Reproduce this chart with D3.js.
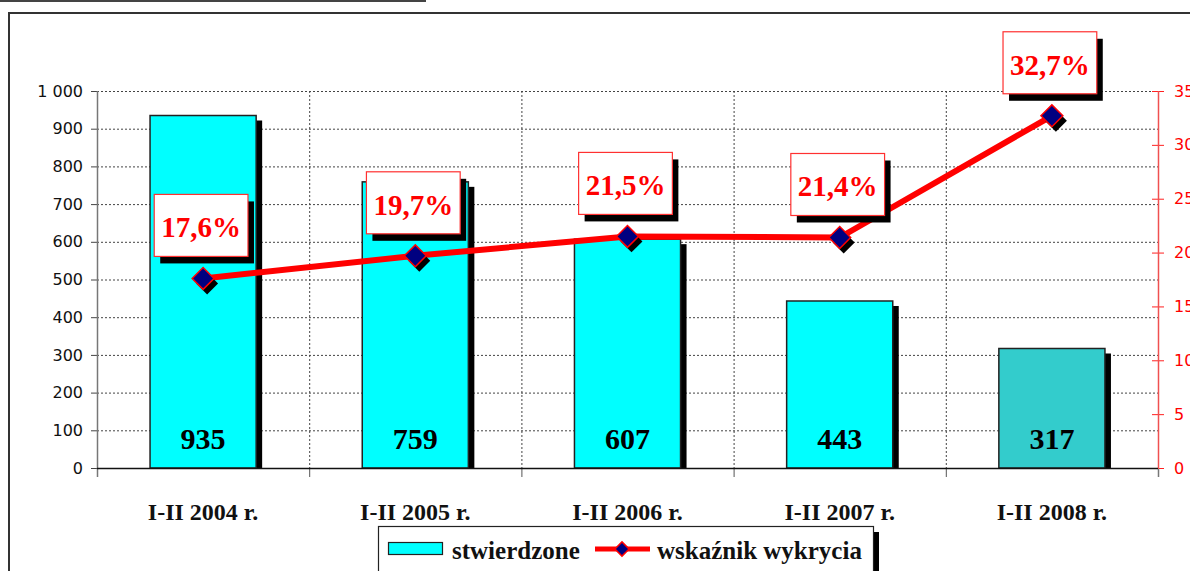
<!DOCTYPE html>
<html>
<head>
<meta charset="utf-8">
<script src="https://cdn.jsdelivr.net/npm/d3@7"></script>
<style>
  body { margin: 0; background: #fff; }
  svg { display: block; }
</style>
</head>
<body>
<div id="chart"></div>
<script>
// data
const categories = ['I-II 2004 r.', 'I-II 2005 r.', 'I-II 2006 r.', 'I-II 2007 r.', 'I-II 2008 r.'];
const stwierdzone = [935, 759, 607, 443, 317];
const wskaznik = [17.6, 19.7, 21.5, 21.4, 32.7];
const left_ticks = [0, 100, 200, 300, 400, 500, 600, 700, 800, 900, 1000];
const right_ticks = [0, 5, 10, 15, 20, 25, 30, 35];
const legend_labels = ['stwierdzone', 'wskaźnik wykrycia'];

const width = 1190, height = 571;
const serif = '"Book Antiqua", "Palatino Linotype", "Liberation Serif", serif';
const sans = '"DejaVu Sans", Verdana, sans-serif';

let svg = d3.select('#chart').append('svg')
    .attr('width', width)
    .attr('height', height);

// header underline and outer frame
svg.append('line')
    .attr('x1', 0).attr('x2', 426)
    .attr('y1', 1).attr('y2', 1)
    .style('stroke', '#444')
    .style('stroke-width', 2);

svg.append('rect')
    .attr('x', 9).attr('y', 13)
    .attr('width', 1300).attr('height', 700)
    .style('fill', 'none')
    .style('stroke', '#333')
    .style('stroke-width', 2);

const x = d3.scaleBand()
    .domain(categories)
    .range([97, 1158])
    .paddingInner(0.5)
    .paddingOuter(0.25);

const y_left = d3.scaleLinear().domain([0, 1000]).range([468, 91]);
const y_right = d3.scaleLinear().domain([0, 35]).range([468, 91]);

const half_gap = (x.step() - x.bandwidth()) / 2;
const cx = c => x(c) + x.bandwidth() / 2;

// horizontal gridlines
svg.append('g').selectAll('line')
    .data(left_ticks.filter(t => t > 0))
    .join('line')
    .attr('x1', 97).attr('x2', 1158)
    .attr('y1', d => y_left(d) + 0.5).attr('y2', d => y_left(d) + 0.5)
    .style('stroke', '#444')
    .style('stroke-width', 1)
    .style('stroke-dasharray', '2,2');

// vertical gridlines at category boundaries
svg.append('g').selectAll('line')
    .data(categories.slice(1))
    .join('line')
    .attr('x1', d => x(d) - half_gap + 0.5).attr('x2', d => x(d) - half_gap + 0.5)
    .attr('y1', 91).attr('y2', 468)
    .style('stroke', '#444')
    .style('stroke-width', 1)
    .style('stroke-dasharray', '2,2');

svg.append('g').selectAll('line')
    .data(categories.slice(1))
    .join('line')
    .attr('x1', d => x(d) - half_gap + 0.5).attr('x2', d => x(d) - half_gap + 0.5)
    .attr('y1', 468).attr('y2', 477)
    .style('stroke', '#555')
    .style('stroke-width', 1);

// bar shadows, then bars
svg.append('g').selectAll('rect')
    .data(stwierdzone)
    .join('rect')
    .attr('x', (d, i) => x(categories[i]) + 6)
    .attr('y', d => y_left(d) + 5)
    .attr('width', x.bandwidth())
    .attr('height', d => y_left(0) - y_left(d) - 5)
    .style('fill', '#000');

svg.append('g').selectAll('rect')
    .data(stwierdzone)
    .join('rect')
    .attr('x', (d, i) => x(categories[i]))
    .attr('y', d => y_left(d))
    .attr('width', x.bandwidth())
    .attr('height', d => y_left(0) - y_left(d))
    .style('fill', (d, i) => i === stwierdzone.length - 1 ? '#33CCCC' : '#00FFFF')
    .style('stroke', '#222')
    .style('stroke-width', 1.5);

// bar values
svg.append('g').selectAll('text')
    .data(stwierdzone)
    .join('text')
    .attr('x', (d, i) => cx(categories[i]))
    .attr('y', 449)
    .style('text-anchor', 'middle')
    .style('font-family', serif)
    .style('font-weight', 'bold')
    .style('font-size', '30px')
    .style('fill', '#000')
    .text(d => d);

// left axis
let left_axis = svg.append('g')
    .attr('transform', 'translate(97,0)')
    .call(d3.axisLeft(y_left)
        .tickValues(left_ticks)
        .tickSize(6)
        .tickPadding(8)
        .tickFormat(d => d3.format(',')(d).replace(',', ' ')));
left_axis.select('.domain').remove();
left_axis.selectAll('.tick line').style('stroke', '#444');
left_axis.selectAll('text')
    .style('font-family', sans)
    .style('font-size', '16px')
    .style('fill', '#111');
svg.append('line')
    .attr('x1', 97.5).attr('x2', 97.5)
    .attr('y1', 91).attr('y2', 477)
    .style('stroke', '#777')
    .style('stroke-width', 1.5);

// right axis (labels run off the right edge, as in the source)
let right_axis = svg.append('g')
    .attr('transform', 'translate(1158,0)')
    .call(d3.axisRight(y_right)
        .tickValues(right_ticks)
        .tickSize(6)
        .tickPadding(10));
right_axis.select('.domain').remove();
right_axis.selectAll('.tick line')
    .attr('x1', -6)
    .style('stroke', '#FF2020');
right_axis.selectAll('text')
    .style('font-family', sans)
    .style('font-size', '16px')
    .style('fill', '#FF0000');
svg.append('line')
    .attr('x1', 1158.5).attr('x2', 1158.5)
    .attr('y1', 468).attr('y2', 477)
    .style('stroke', '#777')
    .style('stroke-width', 1.5);
svg.append('line')
    .attr('x1', 1158.5).attr('x2', 1158.5)
    .attr('y1', 91).attr('y2', 469)
    .style('stroke', '#F05050')
    .style('stroke-width', 1.5);

// bottom axis line
svg.append('line')
    .attr('x1', 97).attr('x2', 1158)
    .attr('y1', 468.5).attr('y2', 468.5)
    .style('stroke', '#111')
    .style('stroke-width', 1.5);

// category labels
svg.append('g').selectAll('text')
    .data(categories)
    .join('text')
    .attr('x', d => cx(d))
    .attr('y', 520)
    .style('text-anchor', 'middle')
    .style('font-family', serif)
    .style('font-weight', 'bold')
    .style('font-size', '24px')
    .style('fill', '#111')
    .text(d => d);

// line
const line = d3.line()
    .x((d, i) => cx(categories[i]))
    .y(d => y_right(d));

svg.append('path')
    .datum(wskaznik)
    .attr('d', line)
    .style('fill', 'none')
    .style('stroke', '#FF0000')
    .style('stroke-width', 6)
    .style('stroke-linejoin', 'round');

const diamond = d3.symbol().type(d3.symbolSquare).size(240);

svg.append('g').selectAll('path')
    .data(wskaznik)
    .join('path')
    .attr('d', diamond)
    .attr('transform', (d, i) => 'translate(' + (cx(categories[i]) + 4) + ',' + (y_right(d) + 5) + ') rotate(45)')
    .style('fill', '#000');

svg.append('g').selectAll('path')
    .data(wskaznik)
    .join('path')
    .attr('d', diamond)
    .attr('transform', (d, i) => 'translate(' + cx(categories[i]) + ',' + y_right(d) + ') rotate(45)')
    .style('fill', '#000080')
    .style('stroke', '#FF0000')
    .style('stroke-width', 1.5);

// percent labels in boxes
wskaznik.forEach(function (v, i) {
    let px = cx(categories[i]) - 2;
    let box_bottom = y_right(v) - 22;
    let g = svg.append('g');
    let shadow = g.append('rect').style('fill', '#000');
    let box = g.append('rect')
        .style('fill', '#fff')
        .style('stroke', '#FF3030')
        .style('stroke-width', 1.2);
    let t = g.append('text')
        .attr('x', px)
        .attr('y', box_bottom - 19)
        .style('text-anchor', 'middle')
        .style('font-family', serif)
        .style('font-weight', 'bold')
        .style('font-size', '29px')
        .style('fill', '#FF0000')
        .text(d3.format('.1f')(v).replace('.', ',') + '%');
    let w = t.node().getComputedTextLength() + 14;
    let h = 62;
    box.attr('x', px - w / 2).attr('y', box_bottom - h).attr('width', w).attr('height', h);
    shadow.attr('x', px - w / 2 + 6).attr('y', box_bottom - h + 7).attr('width', w).attr('height', h);
});

// legend
let legend = svg.append('g');
legend.append('rect')
    .attr('x', 384).attr('y', 532)
    .attr('width', 495).attr('height', 80)
    .style('fill', '#000');
legend.append('rect')
    .attr('x', 378.5).attr('y', 526.5)
    .attr('width', 495).attr('height', 80)
    .style('fill', '#fff')
    .style('stroke', '#222')
    .style('stroke-width', 1.2);
legend.append('rect')
    .attr('x', 388.5).attr('y', 542.5)
    .attr('width', 54).attr('height', 12)
    .style('fill', '#00FFFF')
    .style('stroke', '#222')
    .style('stroke-width', 1.2);
legend.append('text')
    .attr('x', 452).attr('y', 559)
    .style('font-family', serif)
    .style('font-weight', 'bold')
    .style('font-size', '25px')
    .style('fill', '#111')
    .text(legend_labels[0]);
legend.append('line')
    .attr('x1', 595).attr('x2', 650)
    .attr('y1', 549).attr('y2', 549)
    .style('stroke', '#FF0000')
    .style('stroke-width', 5);
legend.append('path')
    .attr('d', d3.symbol().type(d3.symbolSquare).size(100))
    .attr('transform', 'translate(622,549) rotate(45)')
    .style('fill', '#000080')
    .style('stroke', '#FF0000')
    .style('stroke-width', 1.5);
legend.append('text')
    .attr('x', 657).attr('y', 559)
    .style('font-family', serif)
    .style('font-weight', 'bold')
    .style('font-size', '25px')
    .style('fill', '#111')
    .text(legend_labels[1]);
</script>
</body>
</html>
